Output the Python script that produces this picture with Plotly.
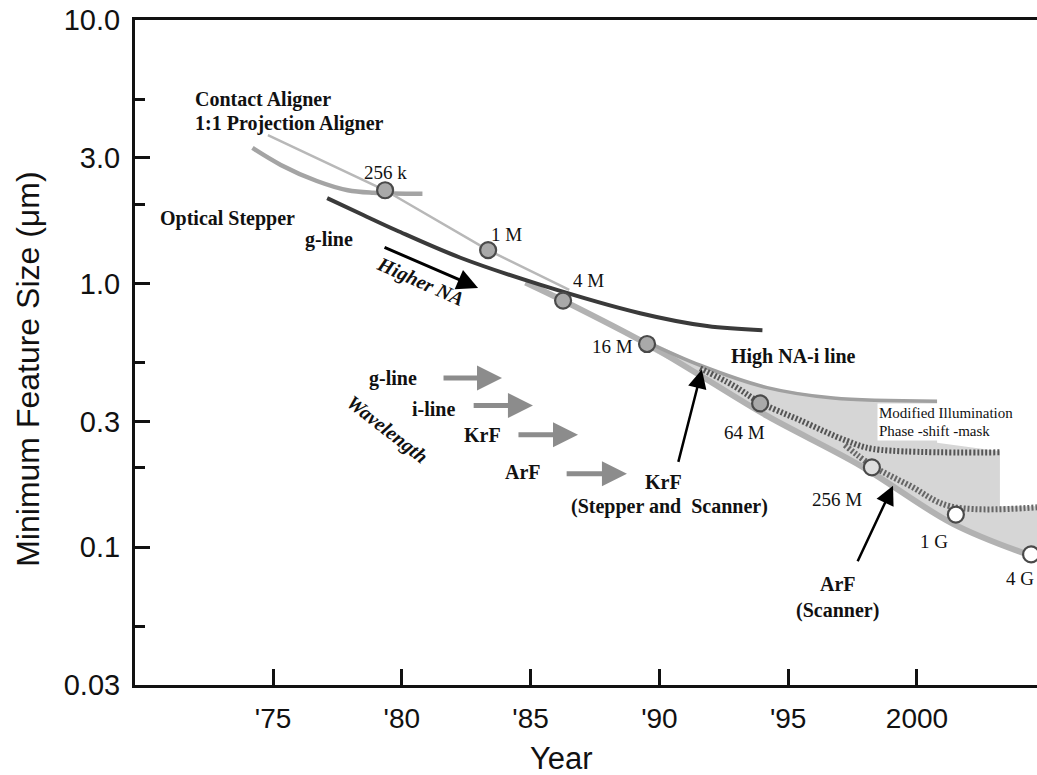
import numpy as np
import plotly.graph_objects as go

# ---------------- data ----------------
contact_year = [1974.2, 1975.3, 1976.7, 1977.9, 1978.9, 1980.8]
contact_size = [3.27, 2.82, 2.45, 2.26, 2.21, 2.19]

proj_year = [1974.8, 1979.35, 1983.35, 1986.5]
proj_size = [3.66, 2.26, 1.34, 0.946]

gline_year = [1977.1, 1978.5, 1979.8, 1982.25, 1985.36, 1989.25, 1991.85, 1994.0]
gline_size = [2.11, 1.82, 1.59, 1.256, 0.991, 0.772, 0.690, 0.665]

iline_year = [1984.8, 1986.26, 1989.52, 1991.6, 1994.2, 1997.8, 2001.4, 2004.4]
iline_size = [1.01, 0.862, 0.590, 0.447, 0.314, 0.204, 0.1226, 0.093]

highna_year = [1989.52, 1991.58, 1994.18, 1996.74, 2000.78]
highna_size = [0.600, 0.490, 0.403, 0.368, 0.358]

band_year = [1989.52, 1991.58, 1994.18, 1996.74, 2000.78, 2000.78, 2003.22, 2003.22, 2004.66,
             2004.66, 2004.39, 2001.40, 1997.79, 1994.18, 1991.58, 1989.52]
band_size = [0.612, 0.490, 0.403, 0.368, 0.358, 0.249, 0.231, 0.143, 0.143,
             0.0889, 0.0913, 0.1226, 0.204, 0.314, 0.447, 0.568]

krf_year = [1991.58, 1992.86, 1993.91, 1995.46, 1997.28, 1998.29, 2003.22]
krf_size = [0.477, 0.411, 0.354, 0.303, 0.253, 0.236, 0.229]

arf_year = [1997.20, 1998.25, 1999.73, 2001.28, 2004.66]
arf_size = [0.244, 0.204, 0.171, 0.143, 0.1416]

chip_year = [1979.35, 1983.35, 1986.26, 1989.52, 1993.91, 1998.25, 2001.51, 2004.43]
chip_size = [2.26, 1.34, 0.862, 0.590, 0.351, 0.2007, 0.133, 0.0939]
chip_fill = ['#a9a9a9'] * 5 + ['#dedede', '#ffffff', '#ffffff']
chip_labels = ['256 k', '1 M', '4 M', '16 M', '64 M', '256 M', '1 G', '4 G']
chip_label_year = [1979.35, 1984.05, 1987.23, 1988.16, 1993.32, 1996.89, 2000.66, 2004.62]
chip_label_size = [2.65, 1.53, 1.03, 0.579, 0.272, 0.152, 0.1055, 0.0762]
chip_label_anchor = ['center'] * 7 + ['right']

wl_labels = ['g-line', 'i-line', 'KrF', 'ArF']
wl_label_year = [1979.66, 1981.21, 1983.15, 1984.70]
wl_label_size = [0.437, 0.335, 0.267, 0.1936]
wl_arrow_start = [1981.56, 1982.73, 1984.47, 1986.34]
wl_arrow_end = [1983.89, 1985.09, 1986.84, 1988.74]
wl_arrow_size = [0.4385, 0.3446, 0.267, 0.190]

y_tickvals = [10, 3, 1, 0.3, 0.1, 0.03]
y_ticktext = ['10.0', '3.0', '1.0', '0.3', '0.1', '0.03']
y_minor = [5, 2, 0.5, 0.2, 0.05]
x_tickvals = [1975, 1980, 1985, 1990, 1995, 2000]
x_ticktext = ["'75", "'80", "'85", "'90", "'95", "2000"]

SERIF = 'Liberation Serif'
SANS = 'Liberation Sans'

fig = go.Figure()

# shaded region
fig.add_trace(go.Scatter(x=band_year, y=band_size, mode='lines', fill='toself',
                         fillcolor='#d6d6d6', line=dict(width=0), hoverinfo='skip'))
# lines
fig.add_trace(go.Scatter(x=contact_year, y=contact_size, mode='lines',
                         line=dict(color='#a4a4a4', width=4.5, shape='spline')))
fig.add_trace(go.Scatter(x=proj_year, y=proj_size, mode='lines',
                         line=dict(color='#b8b8b8', width=2.5)))
fig.add_trace(go.Scatter(x=iline_year, y=iline_size, mode='lines',
                         line=dict(color='#b2b2b2', width=6, shape='spline')))
fig.add_trace(go.Scatter(x=highna_year, y=highna_size, mode='lines',
                         line=dict(color='#a0a0a0', width=3.5, shape='spline')))
fig.add_trace(go.Scatter(x=gline_year, y=gline_size, mode='lines',
                         line=dict(color='#3a3a3a', width=4, shape='spline')))
fig.add_trace(go.Scatter(x=krf_year, y=krf_size, mode='lines',
                         line=dict(color='#555555', width=6, dash='2px,2px', shape='spline')))
fig.add_trace(go.Scatter(x=arf_year, y=arf_size, mode='lines',
                         line=dict(color='#666666', width=6, dash='2px,2px', shape='spline')))
# chips
fig.add_trace(go.Scatter(x=chip_year, y=chip_size, mode='markers',
                         marker=dict(size=16, color=chip_fill, line=dict(color='#4a4a4a', width=2.2)),
                         cliponaxis=False))

ann = []
def txt(x, y, t, size=20, xanchor='center', angle=0, bg=None, family=SERIF):
    d = dict(x=x, y=np.log10(y), xref='x', yref='y', text=t, showarrow=False,
             xanchor=xanchor, yanchor='middle', textangle=angle,
             font=dict(family=family, size=size, color='#111111'))
    if bg:
        d['bgcolor'] = bg
    ann.append(d)

def arrow(x0, y0, x1, y1, color, width, size, head=2):
    ann.append(dict(x=x1, y=np.log10(y1), ax=x0, ay=np.log10(y0), xref='x', yref='y',
                    axref='x', ayref='y', text='', showarrow=True, arrowhead=head,
                    arrowsize=size, arrowwidth=width, arrowcolor=color, standoff=0))

# chip labels
for xx, yy, t, an in zip(chip_label_year, chip_label_size, chip_labels, chip_label_anchor):
    txt(xx, yy, t, size=19, xanchor=an)

# category labels
txt(1971.89, 5.0, '<b>Contact Aligner</b>', xanchor='left')
txt(1971.89, 4.06, '<b>1:1 Projection Aligner</b>', xanchor='left')
txt(1970.54, 1.77, '<b>Optical Stepper</b>', xanchor='left')
txt(1976.16, 1.47, '<b>g-line</b>', xanchor='left')
txt(1995.19, 0.528, '<b>High NA-i line</b>')
txt(1998.45, 0.323, 'Modified Illumination', size=15, xanchor='left', bg='white')
txt(1998.45, 0.2767, 'Phase -shift -mask', size=15, xanchor='left', bg='white')
txt(1990.14, 0.177, '<b>KrF</b>')
txt(1990.41, 0.143, '<b>(Stepper and  Scanner)</b>')
txt(1996.93, 0.0722, '<b>ArF</b>')
txt(1996.93, 0.0575, '<b>(Scanner)</b>')
txt(1980.71, 1.016, '<b><i>Higher NA</i></b>', angle=24)
txt(1979.43, 0.279, '<b><i>Wavelength</i></b>', angle=38)

# wavelength arrows and labels
for t, lx, ly, a0, a1, ay in zip(wl_labels, wl_label_year, wl_label_size,
                                 wl_arrow_start, wl_arrow_end, wl_arrow_size):
    txt(lx, ly, '<b>' + t + '</b>')
    arrow(a0, ay, a1, ay, '#8c8c8c', 5, 1.0)

# black arrows
arrow(1979.27, 1.38, 1982.96, 0.963, '#000000', 3, 1.4)
arrow(1990.72, 0.208, 1991.65, 0.472, '#000000', 2.5, 1.5)
arrow(1997.67, 0.0873, 1999.07, 0.171, '#000000', 2.5, 1.5)

# axis titles
ann.append(dict(x=-0.119, y=0.475, xref='paper', yref='paper', text='Minimum Feature Size (μm)',
                showarrow=False, textangle=-90, xanchor='center', yanchor='middle',
                font=dict(family=SANS, size=32, color='#111111')))
ann.append(dict(x=0.473, y=-0.11, xref='paper', yref='paper', text='Year',
                showarrow=False, xanchor='center', yanchor='middle',
                font=dict(family=SANS, size=31, color='#111111')))

fig.update_layout(
    width=1037, height=775,
    margin=dict(l=135, r=0, t=20, b=90, autoexpand=False),
    paper_bgcolor='white', plot_bgcolor='white',
    showlegend=False,
    annotations=ann,
    xaxis=dict(range=[1969.64, 2004.66], tickmode='array', tickvals=x_tickvals,
               ticktext=x_ticktext, ticks='inside', ticklen=16, tickwidth=2.5,
               tickcolor='#111111', showline=True, linecolor='#111111', linewidth=3,
               mirror=True, showgrid=False, zeroline=False, ticklabelstandoff=6,
               automargin=False,
               tickfont=dict(family=SANS, size=28, color='#111111')),
    yaxis=dict(type='log', range=[np.log10(0.03), 1], tickmode='array',
               tickvals=y_tickvals, ticktext=y_ticktext, ticks='inside', ticklen=15,
               tickwidth=2.5, tickcolor='#111111', showline=True, linecolor='#111111',
               linewidth=3, showgrid=False, zeroline=False, ticklabelstandoff=6,
               automargin=False,
               minor=dict(tickvals=y_minor, ticks='inside', ticklen=10, tickwidth=2.5,
                          tickcolor='#111111', showgrid=False),
               tickfont=dict(family=SANS, size=29, color='#111111')),
)

fig.write_html('out.html', config={'displayModeBar': False},
               post_script="document.body.style.margin='0';document.body.style.overflow='hidden';")
